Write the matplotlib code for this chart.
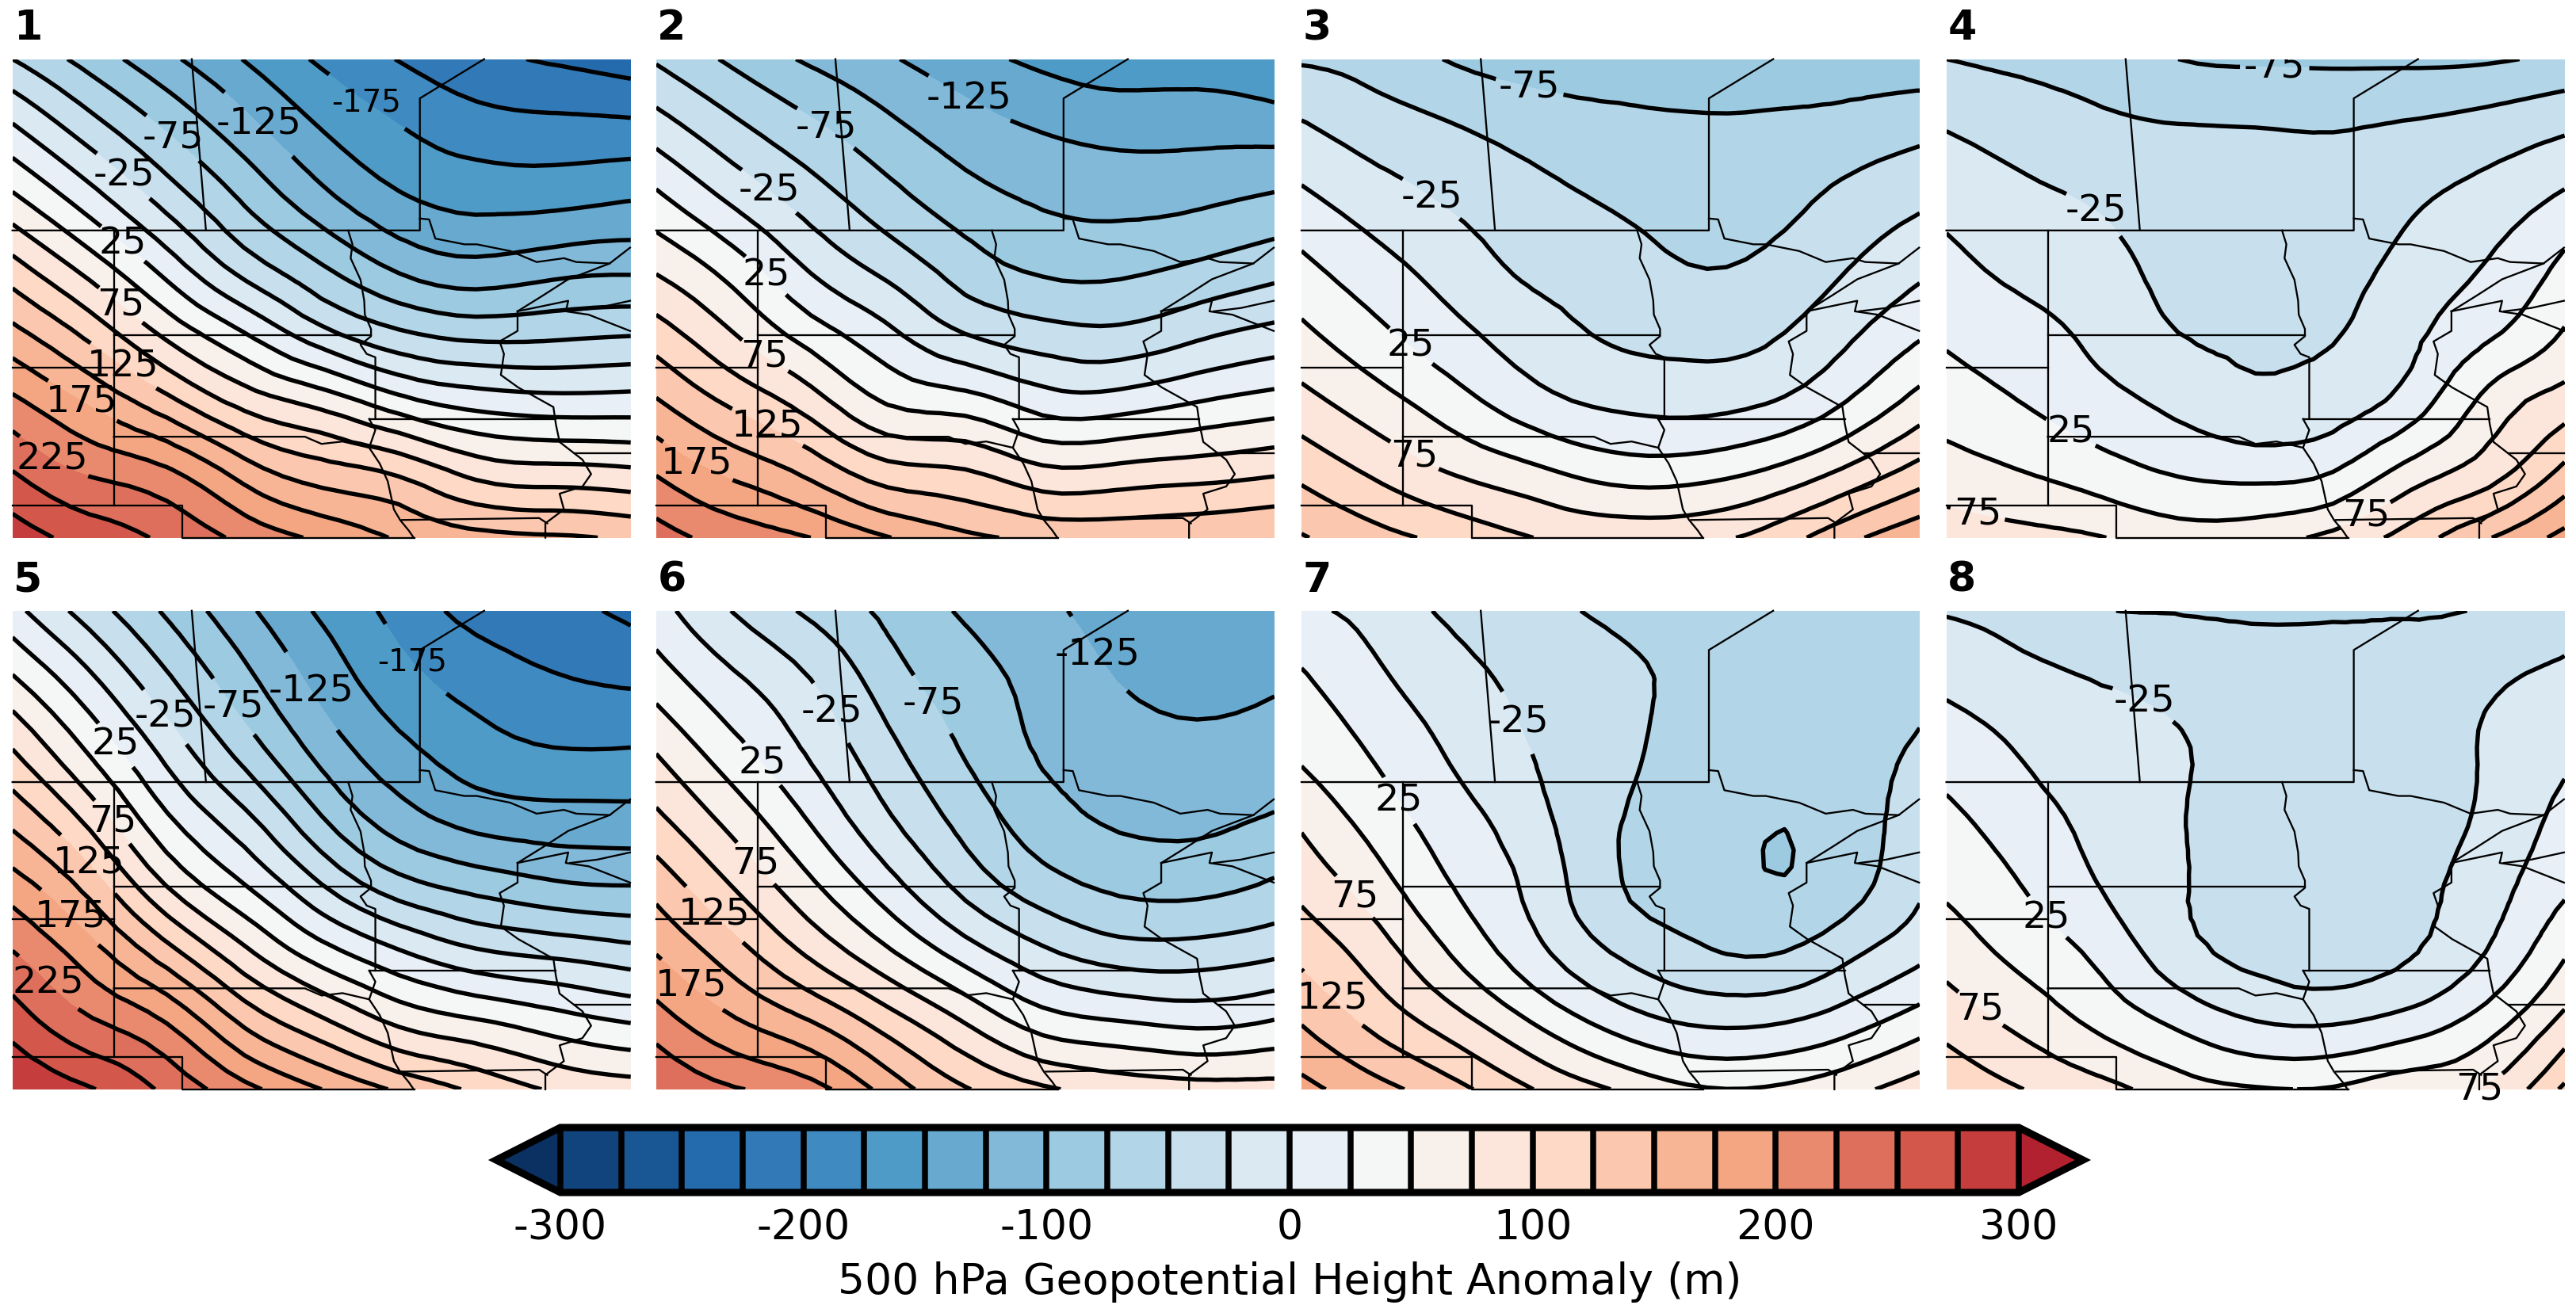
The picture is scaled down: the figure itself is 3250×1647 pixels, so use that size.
import numpy as np
import matplotlib
matplotlib.use("Agg")
import matplotlib.pyplot as plt
from matplotlib.colors import ListedColormap, BoundaryNorm
from matplotlib.tri import Triangulation, UniformTriRefiner

plt.rcParams['axes.unicode_minus'] = False

# height anomaly (m), one list per column west to east, values north to south
panel_1 = [[-50, 3, 53, 107, 157, 205, 249, 288],
           [-85, -39, 9, 62, 117, 171, 220, 265],
           [-119, -78, -37, 12, 68, 132, 202, 245],
           [-151, -116, -80, -38, 25, 90, 161, 218],
           [-179, -151, -119, -75, -18, 65, 134, 195],
           [-201, -174, -148, -107, -47, 33, 118, 172],
           [-218, -189, -159, -120, -59, 14, 89, 158],
           [-228, -193, -159, -112, -57, 8, 81, 153],
           [-238, -194, -153, -108, -53, 9, 77, 146]]
panel_2 = [[-53, -13, 29, 69, 111, 152, 196, 236],
           [-80, -44, -7, 36, 75, 119, 167, 215],
           [-104, -70, -39, -5, 37, 86, 141, 200],
           [-122, -94, -67, -35, 5, 47, 108, 176],
           [-141, -114, -91, -64, -26, 35, 100, 155],
           [-156, -127, -104, -81, -41, 12, 79, 145],
           [-166, -134, -109, -82, -45, 11, 81, 141],
           [-163, -134, -106, -73, -31, 24, 87, 144],
           [-175, -136, -98, -61, -18, 35, 94, 150]]
panel_3 = [[-53, -22, 4, 30, 55, 83, 117, 152],
           [-61, -38, -15, 7, 30, 59, 93, 133],
           [-78, -49, -30, -13, 6, 34, 71, 117],
           [-86, -61, -43, -31, -14, 9, 54, 100],
           [-84, -69, -53, -40, -28, -5, 38, 93],
           [-85, -72, -61, -50, -33, -9, 37, 93],
           [-84, -72, -60, -46, -29, -2, 50, 108],
           [-87, -67, -45, -28, -7, 23, 76, 141],
           [-90, -58, -31, -7, 21, 59, 108, 169]]
panel_4 = [[-50, -26, -9, 7, 21, 38, 60, 89],
           [-56, -36, -20, -7, 8, 24, 49, 83],
           [-60, -45, -29, -17, -7, 8, 35, 76],
           [-75, -49, -41, -33, -25, -7, 21, 63],
           [-79, -50, -44, -37, -30, -19, 15, 66],
           [-80, -51, -43, -36, -27, -13, 23, 82],
           [-80, -47, -30, -17, -6, 11, 58, 111],
           [-78, -40, -16, 1, 20, 57, 87, 148],
           [-70, -29, 3, 30, 52, 86, 130, 183]]
panel_5 = [[8, 53, 99, 141, 186, 226, 264, 295],
           [-37, 5, 45, 90, 139, 186, 228, 277],
           [-79, -46, -10, 27, 73, 135, 198, 244],
           [-119, -93, -62, -20, 25, 81, 144, 208],
           [-154, -134, -110, -75, -25, 36, 104, 175],
           [-183, -166, -144, -115, -66, 3, 69, 146],
           [-209, -186, -165, -136, -85, -21, 52, 120],
           [-217, -198, -175, -142, -97, -31, 36, 97],
           [-231, -204, -175, -143, -101, -41, 23, 87]]
panel_6 = [[10, 38, 72, 104, 140, 174, 212, 250],
           [-26, 4, 32, 64, 98, 136, 178, 227],
           [-55, -25, -5, 21, 54, 95, 150, 210],
           [-81, -63, -44, -23, 9, 54, 112, 165],
           [-103, -90, -78, -60, -34, 13, 73, 127],
           [-119, -108, -103, -90, -65, -20, 37, 104],
           [-138, -126, -114, -104, -81, -38, 25, 90],
           [-149, -134, -119, -106, -83, -39, 18, 85],
           [-145, -129, -114, -99, -72, -30, 26, 84]]
panel_7 = [[5, 28, 44, 69, 92, 118, 148, 183],
           [-10, 4, 20, 37, 59, 86, 116, 158],
           [-31, -17, -5, 9, 23, 46, 84, 132],
           [-43, -32, -26, -17, -7, 8, 48, 100],
           [-54, -44, -43, -47, -46, -25, 16, 75],
           [-60, -55, -58, -60, -62, -44, -3, 54],
           [-62, -65, -68, -73.5, -74, -52, -4, 52],
           [-58, -62, -62, -64, -62, -33, 12, 66],
           [-52, -55, -47, -38, -29, -7, 37, 88]]
panel_8 = [[-27, -6, 13, 30, 45, 65, 90, 122],
           [-36, -18, -3, 11, 24, 42, 67, 100],
           [-49, -26, -17, -8, -1, 18, 43, 84],
           [-51, -35, -22, -23, -23, -15, 19, 62],
           [-52, -46, -42, -38, -31, -31, 0, 52],
           [-52, -44, -39, -35, -31, -37, -3, 52],
           [-51, -44, -39, -35, -30, -27, 10, 68],
           [-48, -30, -22, -20, -12, 1, 37, 77],
           [-35, -20, -6, 7, 20, 47, 82, 130]]
panels = [panel_1, panel_2, panel_3, panel_4, panel_5, panel_6, panel_7, panel_8]

# contour labels: level, then spot in map units (0-100 across each panel)
labels_1 = [(-175, 57.0, 90.5), (-125, 39.9, 86.5), (-75, 26.2, 83.9), (-25, 17.8, 75.4), (25, 17.8, 61.3),
            (75, 17.4, 48.4), (125, 18.1, 36.2), (175, 11.1, 28.1), (225, 6.7, 17.0)]
labels_2 = [(-125, 50.6, 91.6), (-75, 27.5, 85.7), (-25, 18.1, 72.1), (25, 17.4, 54.3), (75, 17.8, 38.4),
            (125, 17.8, 22.5), (175, 6.7, 15.9)]
labels_3 = [(-75, 37.0, 94.6), (-25, 20.9, 70.6), (25, 17.6, 39.9), (75, 18.2, 17.0)]
labels_4 = [(-75, 53.1, 97.9), (-25, 24.5, 68.7), (25, 19.9, 21.4), (75, 5.1, 5.2), (75, 68.1, 4.1)]
labels_5 = [(-175, 64.4, 89.0), (-125, 48.3, 83.1), (-75, 35.5, 79.7), (-25, 24.8, 77.9), (25, 16.4, 71.6),
            (75, 16.4, 56.1), (125, 12.1, 46.9), (175, 9.4, 36.1), (225, 6.0, 22.5)]
labels_6 = [(-125, 72.8, 91.9), (-75, 45.9, 81.6), (-25, 27.8, 78.3), (25, 16.8, 67.6), (75, 15.8, 46.9),
            (125, 9.7, 36.9), (175, 6.0, 22.1)]
labels_7 = [(-25, 35.3, 76.8), (25, 16.0, 60.5), (75, 8.2, 39.8), (125, 5.2, 19.1)]
labels_8 = [(-25, 31.9, 80.5), (25, 16.2, 35.8), (75, 5.4, 16.6), (75, 81.6, 3.5)]
label_spots = [labels_1, labels_2, labels_3, labels_4, labels_5, labels_6, labels_7, labels_8]

# state and coast outlines, map units
borders = [
    [(0, 64.2), (65.9, 64.2), (65.9, 91.8), (76.3, 100)],
    [(29.0, 100), (31.3, 64.2)],
    [(16.4, 64.2), (16.4, 6.8)],
    [(16.4, 42.4), (58.0, 42.4)],
    [(0, 35.5), (16.4, 35.5)],
    [(16.4, 21.1), (47.3, 21.1), (50, 19.6), (53.4, 20.1), (57.7, 18.8)],
    [(0, 6.8), (27.5, 6.8), (27.5, 0), (65, 0)],
    [(54.3, 64.2), (55, 61.3), (54.7, 58.4), (56.3, 53.9), (56.9, 49.5), (57, 46.6), (58, 43.6), (58, 42.1),
     (56.3, 40.3), (57.3, 38.4), (58.7, 37.7), (58.7, 24.8)],
    [(57.7, 24.8), (87.9, 24.8)],
    [(57.7, 24.8), (58.7, 22.5), (57.7, 18.8), (59.4, 15.5), (60.7, 11.8), (61.7, 5.9), (62.7, 3.7), (64.1, 1.5), (64.9, 0)],
    [(65.9, 66.7), (67.4, 66.5), (68.4, 62.5), (73.1, 61.3), (75.1, 61.3), (80.5, 59.9), (84.8, 57.6), (89.2, 58.4),
     (91.2, 57.6), (96.6, 57.3), (99.9, 60.6)],
    [(96.6, 57.3), (89.9, 54), (85.8, 50.6), (81.7, 47.3)],
    [(81.7, 47.3), (81.7, 43.2), (78.8, 41), (79.5, 38.4), (79, 34), (81.8, 31.4), (87.5, 27.3), (87.9, 23.7), (88.5, 20),
     (92.2, 16.3), (93.6, 13.3), (92.2, 10.7), (88.5, 9.2), (89.2, 5.9), (86.2, 3), (86.2, 0)],
    [(81.7, 47.3), (89.9, 49.5), (89.5, 47.3), (93.2, 46.6), (99.9, 43.2)],
    [(90.2, 47.3), (94.6, 48), (99.9, 49.5)],
    [(90.9, 17.6), (99.9, 17.6)],
    [(63, 3.7), (85.2, 4.1), (86.5, 3)],
]

bin_colors = ['#11437c', '#185694', '#246bae', '#3279b8', '#3f8ac0', '#4e9bc7', '#67a9cf', '#82b9d9',
              '#9bcae1', '#b2d5e7', '#c8e0ee', '#dbe9f2', '#e8eff6', '#f5f6f6', '#f8f0eb', '#fce5da',
              '#fdd9c6', '#fbc8af', '#f7b596', '#f4a582', '#e98a6e', '#de6f5c', '#d4574b', '#c53e3d']
under_color = '#0a3162'
over_color = '#b2212f'
levels = list(range(-300, 301, 25))
cbar_ticks = list(range(-300, 301, 100))

W, H = 3250, 1647
fig = plt.figure(figsize=(W / 300, H / 300), dpi=300)
cmap = ListedColormap(bin_colors).with_extremes(under=under_color, over=over_color)
norm = BoundaryNorm(levels, len(bin_colors))

lefts = [15.7, 827.8, 1642, 2455.6]
tops = [74.6, 770.8]
pw, ph = 780, 604

x = np.linspace(0, 100, 9)
y = np.linspace(0, 100, 8)
xx, yy = np.meshgrid(x, y)
tri = Triangulation(xx.ravel(), yy.ravel())
refiner = UniformTriRefiner(tri)

for i, data in enumerate(panels):
    left = lefts[i % 4]
    top = tops[i // 4]
    ax = fig.add_axes([left / W, 1 - (top + ph) / H, pw / W, ph / H])
    ax.set_xlim(0, 100)
    ax.set_ylim(0, 100)
    z = np.flipud(np.array(data, dtype=float).T)
    # the library's cubic refinement rounds off the contours of the coarse grid
    tri_fine, z_fine = refiner.refine_field(z.ravel(), subdiv=2)
    cf = ax.tricontourf(tri_fine, z_fine, levels=levels, cmap=cmap, norm=norm, extend='both')
    for b in borders:
        pts = np.array(b)
        ax.plot(pts[:, 0], pts[:, 1], color='k', lw=0.55, clip_on=False, zorder=3)
    # one contour set per level, clabel's manual mode picks the wrong level on a subset
    for lev in levels:
        if lev <= z_fine.min() or lev >= z_fine.max():
            continue
        cs = ax.tricontour(tri_fine, z_fine, levels=[lev], colors='k', linewidths=1.3, linestyles='solid')
        spots = [(sx, sy) for l, sx, sy in label_spots[i] if l == lev]
        if spots:
            texts = cs.clabel([lev], manual=spots, fmt='%d', fontsize=11.4, inline=True, colors='k')
            for t in texts:
                t.set_rotation(0)
                if t.get_position()[1] < 10:
                    t.set_clip_on(False)
                if lev == -175:
                    t.set_fontsize(9.3)
    ax.set_xlim(0, 100)
    ax.set_ylim(0, 100)
    ax.axis('off')
    ax.text(0.002, 1.04, str(i + 1), transform=ax.transAxes, fontsize=12.5, fontweight='bold', va='baseline', ha='left')

cax = fig.add_axes([626 / W, 1 - 1505 / H, 2002 / W, 82 / H])
cbar = fig.colorbar(cf, cax=cax, orientation='horizontal', extend='both', extendfrac=0.044,
                    drawedges=True, ticks=cbar_ticks)
cbar.outline.set_linewidth(2.2)
cbar.dividers.set_linewidth(1.8)
cbar.dividers.set_color('k')
cbar.ax.tick_params(length=0, labelsize=12.5, pad=5)
cbar.ax.minorticks_off()
cbar.set_label('500 hPa Geopotential Height Anomaly (m)', fontsize=12.9, labelpad=4)

fig.savefig('out.png', dpi=300)
